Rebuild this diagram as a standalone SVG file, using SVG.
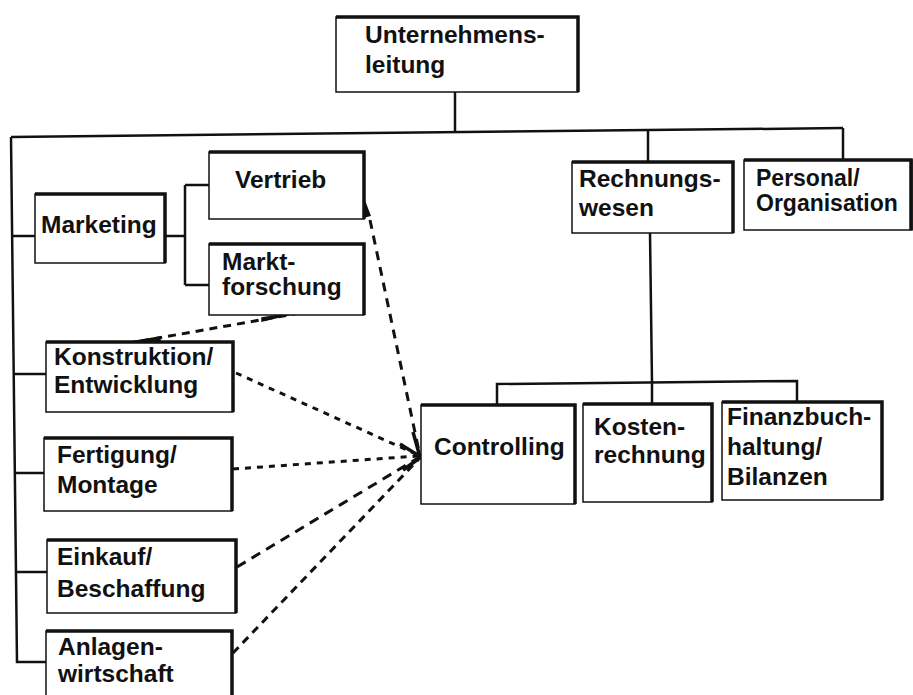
<svg xmlns="http://www.w3.org/2000/svg" width="913" height="695" viewBox="0 0 913 695">
  <style>
    .box { fill: #fff; stroke: #111; stroke-width: 1.5; }
    .edge { fill: none; stroke: #111; stroke-width: 3.5; stroke-linejoin: miter; }
    .lbl { font-family: "Liberation Sans", Arial, Helvetica, sans-serif; font-weight: bold; font-size: 24.5px; fill: #111; }
    .tight { font-size: 23px; }
    .tree { fill: none; stroke: #111; stroke-width: 2.5; }
    .dash { fill: none; stroke: #111; stroke-width: 3; }
  </style>
  <rect width="913" height="695" fill="#fff"/>

  <!-- organisational tree lines -->
  <g id="connectors">
    <path class="tree" d="M455,92 V132"/>
    <path class="tree" d="M11,137 L843,128"/>
    <path class="tree" d="M648,130 V162"/>
    <path class="tree" d="M843,128 V160"/>
    <path class="tree" d="M11,137 L17,662 H46"/>
    <path class="tree" d="M12,236 H35"/>
    <path class="tree" d="M14,374 H46"/>
    <path class="tree" d="M15,473 H44"/>
    <path class="tree" d="M16,572 H47"/>
    <path class="tree" d="M165,236 H185 M185,185 V285 M185,185 H209 M185,285 H209"/>
    <path class="tree" d="M650,233 L652,383"/>
    <path class="tree" d="M497,405 V384 L797,381 V402 M652,383 V404"/>

    <!-- dashed relations to Controlling -->
    <path d="M363,195 L371,216 L363,218 Z" fill="#111"/>
    <path class="dash" d="M370,220 L420,456" stroke-dasharray="9 7"/>
    <path class="dash" d="M300,313 L130,343" stroke-dasharray="8 6"/>
    <path d="M300,312 L262,318 L262,321 Z M160,337 L130,342 L160,341 Z" fill="#111" stroke="#111" stroke-width="1.5"/>
    <path class="dash" d="M236,373 L418,455" stroke-dasharray="6 6"/>
    <path class="dash" d="M233,469 L418,456" stroke-dasharray="6 6"/>
    <path class="dash" d="M237,567 L418,458" stroke-dasharray="10 7" stroke-width="3.5"/>
    <path class="dash" d="M233,653 L418,460" stroke-dasharray="8 6" stroke-width="2.5"/>
    <path d="M413,432 L420,457" fill="none" stroke="#111" stroke-width="3.5"/>
    <path d="M400,444 L421,457 L403,470" fill="none" stroke="#111" stroke-width="3.5"/>
  </g>

  <g id="unternehmensleitung">
    <rect class="box" x="336" y="17" width="242" height="75"/>
    <path class="edge" d="M336,17 H578 V92"/>
    <text class="lbl" x="365" y="43">Unternehmens-</text>
    <text class="lbl" x="365" y="73">leitung</text>
  </g>

  <g id="marketing">
    <rect class="box" x="35" y="194" width="130" height="69"/>
    <path class="edge" d="M35,194 H165 V263"/>
    <text class="lbl" x="41" y="233">Marketing</text>
  </g>

  <g id="vertrieb">
    <rect class="box" x="209" y="152" width="155" height="67"/>
    <path class="edge" d="M209,152 H364 V219"/>
    <text class="lbl" x="235" y="188">Vertrieb</text>
  </g>

  <g id="marktforschung">
    <rect class="box" x="209" y="244" width="155" height="71"/>
    <path class="edge" d="M209,244 H364 V315"/>
    <text class="lbl" x="222" y="270">Markt-</text>
    <text class="lbl" x="222" y="295">forschung</text>
  </g>

  <g id="konstruktion">
    <rect class="box" x="46" y="342" width="187" height="70"/>
    <path class="edge" d="M46,342 H233 V412"/>
    <text class="lbl" x="54" y="365">Konstruktion/</text>
    <text class="lbl" x="54" y="393">Entwicklung</text>
  </g>

  <g id="fertigung">
    <rect class="box" x="44" y="438" width="188" height="73"/>
    <path class="edge" d="M44,438 H232 V511"/>
    <text class="lbl" x="57" y="463">Fertigung/</text>
    <text class="lbl" x="57" y="493">Montage</text>
  </g>

  <g id="einkauf">
    <rect class="box" x="47" y="540" width="189" height="73"/>
    <path class="edge" d="M47,540 H236 V613"/>
    <text class="lbl" x="57" y="565">Einkauf/</text>
    <text class="lbl" x="57" y="597">Beschaffung</text>
  </g>

  <g id="anlagenwirtschaft">
    <rect class="box" x="46" y="631" width="186" height="72"/>
    <path class="edge" d="M46,631 H232 V703"/>
    <text class="lbl" x="58" y="655">Anlagen-</text>
    <text class="lbl" x="58" y="682">wirtschaft</text>
  </g>

  <g id="rechnungswesen">
    <rect class="box" x="572" y="162" width="161" height="71"/>
    <path class="edge" d="M572,162 H733 V233"/>
    <text class="lbl" x="579" y="187">Rechnungs-</text>
    <text class="lbl" x="579" y="216">wesen</text>
  </g>

  <g id="personal">
    <rect class="box" x="744" y="160" width="168" height="70"/>
    <path class="edge" d="M744,160 H911 V230"/>
    <text class="lbl tight" x="756" y="186">Personal/</text>
    <text class="lbl tight" x="756" y="211">Organisation</text>
  </g>

  <g id="controlling">
    <rect class="box" x="421" y="405" width="154" height="99"/>
    <path class="edge" d="M421,405 H575 V504"/>
    <text class="lbl" x="434" y="455">Controlling</text>
  </g>

  <g id="kostenrechnung">
    <rect class="box" x="583" y="404" width="129" height="98"/>
    <path class="edge" d="M583,404 H712 V502"/>
    <text class="lbl" x="594" y="435">Kosten-</text>
    <text class="lbl" x="594" y="463">rechnung</text>
  </g>

  <g id="finanzbuchhaltung">
    <rect class="box" x="722" y="402" width="160" height="98"/>
    <path class="edge" d="M722,402 H882 V500"/>
    <text class="lbl" x="727" y="425">Finanzbuch-</text>
    <text class="lbl" x="727" y="455">haltung/</text>
    <text class="lbl" x="727" y="485">Bilanzen</text>
  </g>
</svg>
